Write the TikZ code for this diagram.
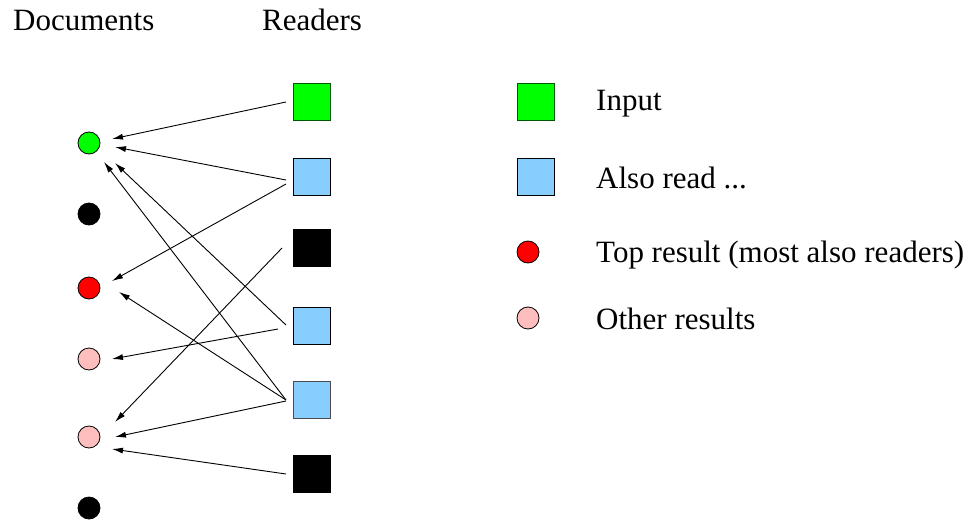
\documentclass[tikz,border=0pt]{standalone}
\usepackage{fontspec}
\setmainfont{Liberation Serif}
\usetikzlibrary{arrows.meta}
\definecolor{ingreen}{RGB}{0,255,0}
\definecolor{alsoblue}{RGB}{135,206,255}
\definecolor{topred}{RGB}{255,0,0}
\definecolor{otherpink}{RGB}{255,190,190}
\tikzset{
  doc/.style={circle, draw=black, line width=0.8pt, minimum size=22pt, inner sep=0pt},
  reader/.style={rectangle, draw=black, line width=1pt, minimum size=37pt, inner sep=0pt},
  lbl/.style={anchor=base west, inner sep=0pt, font=\fontsize{31}{31}\selectfont},
  link/.style={line width=0.9pt, -{Latex[length=11pt,width=6pt]}},
}
\begin{document}
\begin{tikzpicture}[x=1pt,y=-1pt]
\useasboundingbox (0,0) rectangle (973,519);
% headers
\node[lbl] (hdoc) at (13,31) {Documents};
\node[lbl] (hread) at (262,31) {Readers};
% documents
\node[doc, fill=ingreen] (d1) at (89,143) {};
\node[doc, fill=black] (d2) at (89,214) {};
\node[doc, fill=topred] (d3) at (89,288) {};
\node[doc, fill=otherpink] (d4) at (89,359) {};
\node[doc, fill=otherpink] (d5) at (89,437) {};
\node[doc, fill=black] (d6) at (89,508) {};
% readers
\node[reader, fill=ingreen, draw=green!35!black] (g) at (312,102) {};
\node[reader, fill=alsoblue] (b1) at (312,177) {};
\node[reader, fill=black] (k1) at (312,248) {};
\node[reader, fill=alsoblue] (b2) at (312,326) {};
\node[reader, fill=alsoblue, draw=black!70] (b3) at (312,400) {};
\node[reader, fill=black] (k2) at (312,474) {};
% links
\draw[link] ([xshift=-7pt]g.west) -- ([xshift=23pt,yshift=4pt]d1.center);
\draw[link] ([xshift=-7pt,yshift=-3pt]b1.west) -- ([xshift=26pt,yshift=-4pt]d1.center);
\draw[link] ([xshift=-7pt,yshift=-7pt]b1.west) -- ([xshift=23pt,yshift=7pt]d3.center);
\draw[link] ([xshift=-7pt,yshift=1pt]b2.west) -- ([xshift=26pt,yshift=-20pt]d1.center);
\draw[link] ([xshift=-15pt,yshift=-3pt]b2.west) -- ([xshift=23pt]d4.center);
\draw[link] ([xshift=-11pt]k1.west) -- ([xshift=26pt,yshift=15pt]d5.center);
\draw[link] ([xshift=-7pt]b3.west) -- ([xshift=15pt,yshift=-19pt]d1.center);
\draw[link] ([xshift=-7pt]b3.west) -- ([xshift=30pt,yshift=-4pt]d3.center);
\draw[link] ([xshift=-7pt,yshift=-1pt]b3.west) -- ([xshift=26pt]d5.center);
\draw[link] ([xshift=-7pt]k2.west) -- ([xshift=23pt,yshift=-12pt]d5.center);
% legend
\node[reader, fill=ingreen, draw=green!35!black] (lg) at (536,102) {};
\node[reader, fill=alsoblue] (lb) at (536,177) {};
\node[doc, fill=topred] (lr) at (528,252) {};
\node[doc, fill=otherpink] (lp) at (528,318) {};
\node[lbl] (tin) at (596,110) {Input};
\node[lbl] (tal) at (596,188) {Also read ...};
\node[lbl] (ttop) at (596,262) {Top result (most also readers)};
\node[lbl] (toth) at (596,329) {Other results};
\end{tikzpicture}
\end{document}
